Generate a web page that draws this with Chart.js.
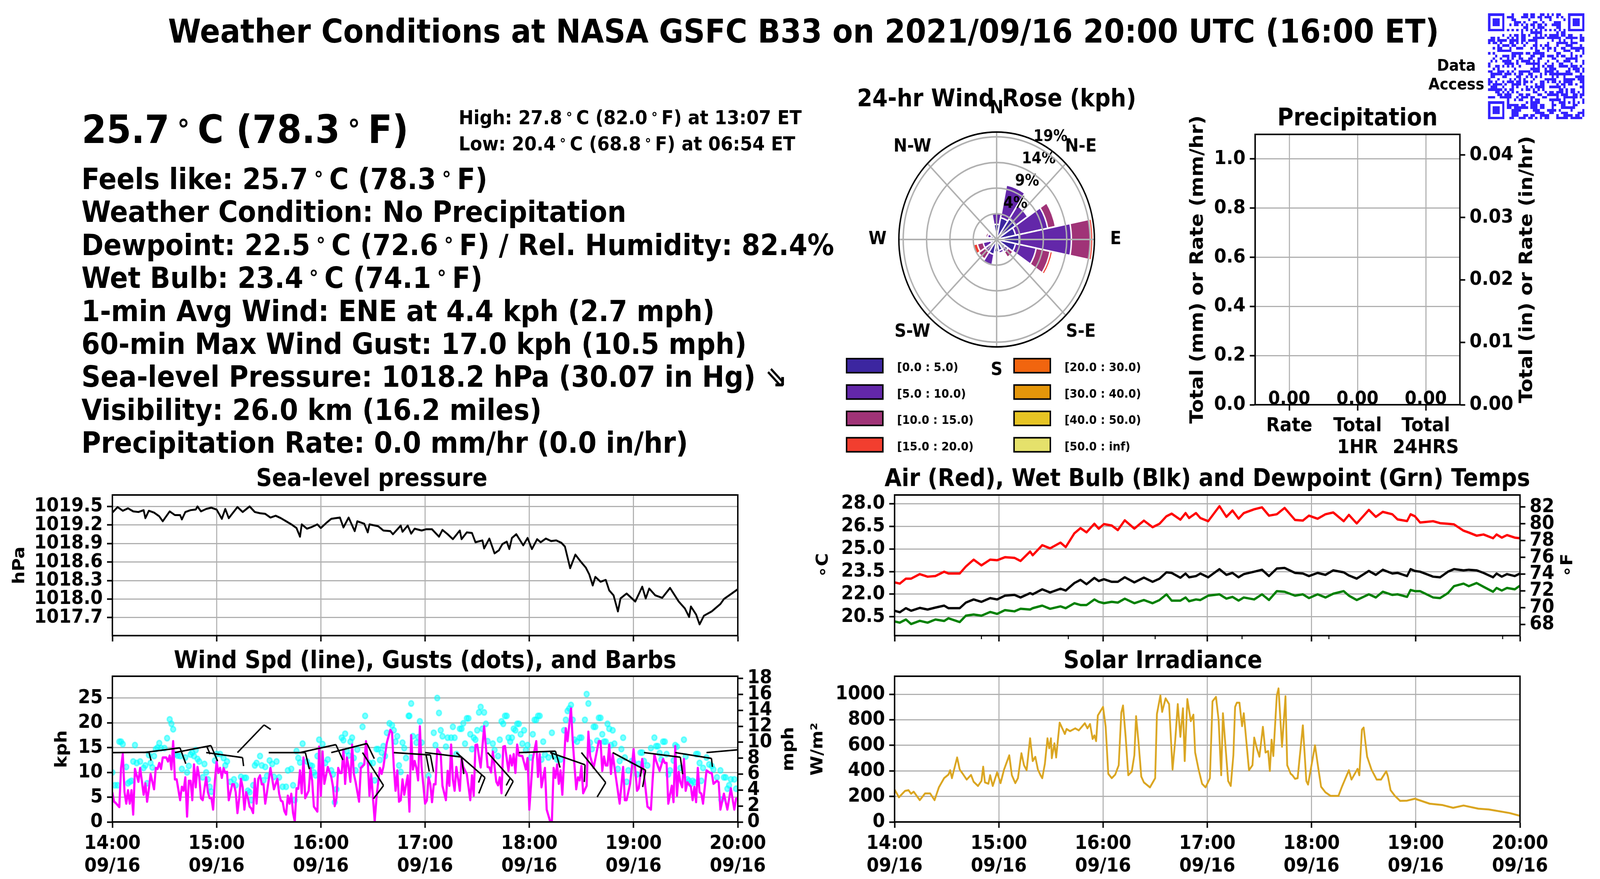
<!doctype html>
<html lang="en">

<head>
    <meta charset="utf-8">
    <style>
        html,
        body {
            margin: 0;
            width: 100%;
            height: 100%;
            overflow: hidden;
            background: #fff;
        }

        #stage {
            position: absolute;
            left: 0;
            top: 0;
            width: 4500px;
            height: 2250px;
            overflow: hidden;
            transform-origin: 0 0;
            font-family: "DejaVu Sans", sans-serif;
            font-weight: bold;
            color: #000;
        }

        canvas {
            position: absolute;
            display: block;
        }

        .txt {
            position: absolute;
            white-space: pre;
        }

        .deg {
            font-size: 0.7em;
            font-weight: bold;
            position: relative;
            top: -0.42em;
            margin: 0 0.25em;
        }
    </style>
    <script src="https://cdn.jsdelivr.net/npm/chart.js@4"></script>
</head>

<body>
    <div id="stage">
        <canvas id="pressureChart"></canvas>
        <canvas id="windChart"></canvas>
        <canvas id="tempChart"></canvas>
        <canvas id="solarChart"></canvas>
        <canvas id="precipChart"></canvas>
        <canvas id="roseChart"></canvas>
        <canvas id="qrCode"></canvas>
    </div>

    <script>
        // x axis
        const hourLabels = ['14:00', '15:00', '16:00', '17:00', '18:00', '19:00', '20:00'];
        const dateLabel = '09/16';

        // sea-level pressure
        const pressureTicks = [1017.7, 1018.0, 1018.3, 1018.6, 1018.9, 1019.2, 1019.5];
        const pressureMinutes = [
            0, 3, 6, 9, 12, 15, 18, 19, 21, 24,
            27, 29, 33, 36, 39, 40, 42, 45, 48, 49,
            51, 54, 57, 60, 63, 65, 67, 72, 75, 79,
            82, 85, 88, 91, 94, 97, 100, 103, 106, 108,
            109, 112, 115, 118, 120, 123, 126, 131, 133, 136,
            139.5, 141, 145, 147, 148, 153, 156, 160, 161.5, 166,
            167, 170, 172, 174, 178, 180.5, 184, 188, 190, 193,
            196, 200, 201, 204, 207, 209, 213, 214, 217, 220,
            222.5, 224.5, 227, 228.5, 230, 232.5, 236.5, 239, 241.5, 244.5,
            246.5, 249.5, 252.5, 255.5, 258.5, 260.5, 263.5, 266.5, 269.5, 272.5,
            274.5, 276.5, 278, 281, 284, 286, 288.5, 291, 292.5, 296,
            301, 305, 307, 309, 312.5, 316.5, 321, 326, 329.5, 332,
            333, 336, 338, 340.5, 345, 350, 352, 356, 360
        ];
        const pressureHpa = [
            1019.40, 1019.49, 1019.43, 1019.47, 1019.42, 1019.41, 1019.44, 1019.31, 1019.43, 1019.40,
            1019.34, 1019.26, 1019.42, 1019.36, 1019.36, 1019.29, 1019.41, 1019.44, 1019.45, 1019.50,
            1019.42, 1019.46, 1019.48, 1019.45, 1019.30, 1019.46, 1019.31, 1019.49, 1019.41, 1019.50,
            1019.41, 1019.39, 1019.38, 1019.32, 1019.35, 1019.31, 1019.26, 1019.21, 1019.15, 1019.01,
            1019.21, 1019.14, 1019.17, 1019.21, 1019.15, 1019.23, 1019.30, 1019.32, 1019.16, 1019.32,
            1019.10, 1019.26, 1019.22, 1019.08, 1019.21, 1019.18, 1019.11, 1019.10, 1019.05, 1019.19,
            1019.09, 1019.19, 1019.06, 1019.14, 1019.11, 1019.13, 1019.13, 1019.01, 1019.12, 1019.05,
            1018.97, 1019.11, 1018.97, 1019.08, 1019.07, 1018.92, 1018.95, 1018.82, 1018.98, 1018.74,
            1018.79, 1018.89, 1018.93, 1018.81, 1018.99, 1019.05, 1018.87, 1018.99, 1018.81, 1018.97,
            1018.92, 1018.98, 1018.94, 1018.95, 1018.91, 1018.85, 1018.50, 1018.72, 1018.61, 1018.51,
            1018.40, 1018.22, 1018.36, 1018.28, 1018.31, 1018.14, 1018.06, 1017.80, 1018.01, 1018.09,
            1017.96, 1018.20, 1018.01, 1018.17, 1018.06, 1018.02, 1018.18, 1017.96, 1017.85, 1017.71,
            1017.88, 1017.75, 1017.59, 1017.73, 1017.80, 1017.92, 1018.00, 1018.08, 1018.16
        ];

        // wind speed line
        const kphTicks = [0, 5, 10, 15, 20, 25];
        const mphTicks = [0, 2, 4, 6, 8, 10, 12, 14, 16, 18];
        const windMinutes = [
            0, 1, 2, 4, 5, 6, 7, 8, 9, 10,
            11, 12, 13, 14, 15, 16, 18, 19, 20, 21,
            22, 24, 25, 26, 27, 28, 29, 31, 32, 33,
            34, 35, 36, 37, 39, 40, 41, 42, 43, 44,
            45, 46, 47, 48, 49, 50, 51, 52, 54, 55,
            56, 57, 58, 59, 60, 61, 62, 63, 64, 65,
            66, 67, 68, 69, 70, 71, 72, 73, 74, 75,
            76, 77, 78, 79, 80, 81, 82, 83, 84, 85,
            86, 87, 88, 89, 91, 93, 95, 96, 97, 98,
            99, 100, 101, 102, 103, 104, 105, 106, 107, 108,
            109, 110, 111, 113, 114, 115, 116, 118, 119, 120,
            121, 122, 124, 126, 127, 128, 129, 130, 131, 132,
            133, 134, 135, 136, 137, 138, 139, 140, 142, 143,
            145, 146, 147, 148, 149, 151, 152, 153, 154, 155,
            156, 158, 160, 161, 162, 163, 164, 165, 166, 167,
            168, 170, 171, 172, 173, 174, 175, 176, 177, 178,
            180, 181, 182, 183, 184, 185, 186, 187, 189, 190,
            192, 193, 194, 195, 196, 197, 198, 200, 201, 202,
            204, 206, 207, 208, 209, 210, 212, 214, 216, 217,
            218, 219, 221, 222, 223, 224, 225, 226, 228, 229,
            230, 231, 232, 233, 234, 236, 238, 239, 240, 242,
            244, 245, 246, 247, 249, 250, 252, 253, 254, 255,
            256, 257, 258, 259, 261, 262, 264, 265, 267, 268,
            269, 270, 271, 273, 274, 275, 277, 280, 281, 282,
            283, 284, 285, 286, 287, 288, 290, 292, 294, 295,
            296, 298, 299, 300, 302, 303, 305, 306, 308, 310,
            311, 312, 313, 315, 317, 318, 319, 320, 322, 323,
            324, 325, 326, 327, 328, 329, 330, 331, 333, 334,
            335, 336, 337, 338, 339, 340, 342, 344, 345, 346,
            348, 349, 350, 352, 354, 356, 358, 359, 360
        ];
        const windKph = [
            6.0, 4.1, 3.8, 3.0, 10.9, 13.7, 6.0, 3.7, 6.4, 3.7,
            6.4, 1.5, 10.7, 9.4, 8.1, 10.9, 5.5, 7.8, 4.1, 6.6,
            9.7, 6.6, 10.9, 10.7, 11.9, 10.7, 13.0, 13.0, 12.2, 13.4,
            10.6, 16.3, 8.6, 8.6, 4.4, 7.1, 6.3, 9.0, 1.1, 8.3,
            8.3, 4.4, 11.6, 7.0, 11.1, 9.1, 4.8, 4.4, 9.0, 6.0,
            4.8, 4.8, 2.5, 8.3, 12.2, 9.9, 10.9, 8.9, 10.9, 9.9,
            10.1, 4.4, 6.0, 7.6, 7.6, 6.0, 1.8, 4.8, 8.7, 7.0,
            2.5, 6.0, 4.8, 3.1, 2.7, 1.8, 8.7, 3.7, 8.7, 9.4,
            7.6, 7.6, 3.7, 6.0, 10.9, 6.6, 8.7, 5.7, 4.3, 4.1,
            2.2, 1.5, 5.3, 3.7, 5.7, 1.8, 0.1, 6.8, 6.7, 10.4,
            5.8, 13.0, 4.8, 6.3, 10.9, 8.3, 3.1, 2.1, 15.2, 5.3,
            14.2, 7.7, 11.1, 9.1, 7.1, 3.2, 4.8, 10.9, 9.9, 9.9,
            14.6, 7.7, 13.0, 11.1, 8.1, 15.6, 9.7, 8.1, 4.1, 10.9,
            11.6, 16.3, 12.2, 5.3, 9.7, 0.1, 4.8, 8.0, 10.9, 9.7,
            11.1, 16.0, 18.6, 18.0, 11.1, 6.3, 10.4, 4.1, 4.4, 8.6,
            5.5, 9.4, 2.1, 17.5, 10.6, 12.3, 10.9, 8.4, 19.3, 11.1,
            3.7, 4.3, 9.0, 7.7, 4.0, 7.6, 7.6, 14.7, 13.7, 7.3,
            4.4, 10.3, 7.3, 15.6, 8.6, 6.3, 11.1, 6.3, 13.0, 11.1,
            9.7, 4.4, 9.4, 5.3, 15.5, 15.6, 11.0, 19.3, 11.1, 11.0,
            10.0, 14.2, 8.1, 7.4, 9.0, 5.8, 15.2, 15.3, 10.3, 13.4,
            11.4, 13.7, 9.9, 15.6, 13.4, 13.3, 10.6, 12.9, 2.5, 12.7,
            16.3, 9.1, 13.7, 7.0, 10.9, 2.5, 0.1, 0.2, 10.9, 8.9,
            11.6, 7.7, 10.4, 5.5, 18.9, 16.3, 22.9, 16.3, 6.6, 9.0,
            8.4, 11.3, 5.8, 7.3, 18.2, 13.3, 10.9, 16.3, 16.3, 10.3,
            13.2, 11.4, 11.4, 15.6, 9.7, 13.7, 8.6, 3.7, 11.1, 4.4,
            4.4, 7.7, 10.9, 14.7, 6.3, 6.8, 12.7, 9.7, 3.1, 2.5,
            8.6, 13.6, 12.3, 10.3, 12.7, 11.9, 11.9, 3.7, 7.3, 4.0,
            15.3, 5.3, 10.1, 8.0, 7.0, 12.7, 6.3, 8.0, 7.1, 4.4,
            7.1, 4.0, 10.9, 6.0, 5.7, 3.7, 10.4, 9.9, 9.9, 7.7,
            8.3, 8.0, 2.5, 5.7, 2.5, 6.8, 2.5, 4.7, 4.8
        ];

        // gust dots
        const gustMinutes = [
            0, 1.5, 3, 4, 5, 6, 8, 9, 10, 11,
            12, 13, 14, 16, 18, 19, 20, 21, 22, 23,
            24, 25, 26, 27, 28, 30, 31.5, 33, 34, 35,
            36, 37.5, 39, 40, 42, 43, 44, 45, 46, 47,
            48, 49, 50, 52, 53, 54, 55, 56, 57, 59,
            60, 62, 64, 65, 66, 68, 70, 71, 74, 76,
            77, 78, 79, 80, 81, 82, 83, 85, 86, 87,
            88, 89, 90.5, 92, 93, 94.5, 96, 98, 100, 101,
            103, 104, 105, 106, 107, 108, 109.5, 112, 114, 115,
            116, 117, 118, 119, 121, 122.5, 124, 126, 127, 128,
            129, 132, 133, 134, 135, 136, 137, 138, 139, 140,
            141, 143, 144, 145.5, 148, 150, 151, 152, 153, 154,
            155, 156, 157, 158, 159.5, 161, 162, 163, 164, 165,
            166, 167, 168, 169, 170.5, 171, 172, 173, 175, 176,
            177, 178, 182, 185, 186, 187, 188, 189, 190, 192,
            193, 195, 196, 197, 198, 200, 201, 202, 203, 204,
            205, 206, 207, 208, 209, 210, 211, 212, 213, 214,
            215, 216, 219, 220, 222, 223, 224, 225, 226, 227,
            228, 229, 230, 231, 232, 233, 234, 235, 236, 237,
            238, 239, 241, 242, 243, 244, 245, 246, 247, 248,
            249, 251, 253, 254, 256, 258, 260, 261, 262, 263,
            264, 265, 266, 267.5, 269, 270, 272, 273, 274, 275,
            276, 277, 278, 279, 280, 281, 282, 283, 284, 285,
            286, 287, 288, 289, 291, 292, 293, 294, 295, 296,
            297, 299, 300, 302, 303, 304, 305, 306, 308, 310,
            312, 313, 314, 315, 316, 317, 318, 319, 320, 321,
            323, 324, 325, 327, 329, 330, 331, 332, 333, 334,
            335, 336, 337, 338, 339, 340, 342, 343.5, 345, 346,
            348, 350, 350.5, 352, 353, 354, 355, 356, 358, 359
        ];
        const gustKph = [
            10, 7.4, 7.4, 16.2, 16.2, 15.7, 11.1, 7.8, 8.1, 8.3,
            12.2, 15.5, 11.9, 12.2, 10.9, 11.4, 7.8, 13.5, 11.9, 11,
            13.3, 14.7, 15, 15.9, 14.9, 14.9, 16.9, 20.7, 19.8, 18.7,
            13.7, 13.4, 13.3, 10.7, 13, 10, 11.3, 13.6, 14, 13.3,
            14.5, 12.7, 12.2, 9, 11.7, 10, 8.6, 7.1, 6.1, 12.4,
            13.7, 13.7, 12.9, 11.4, 12.2, 8.1, 8.6, 7.4, 9.1, 8.9,
            8.9, 6.3, 6, 4.4, 7.4, 11.4, 11.9, 13.3, 11.4, 8.4,
            11.1, 9.3, 12.4, 11.7, 9.1, 12.2, 9, 7.1, 7.1, 10.4,
            10.7, 7.4, 4.4, 14.3, 12.9, 12, 15.8, 12.2, 11.4, 11.3,
            10, 9.4, 13.3, 16.6, 15.7, 11.9, 12.6, 10.4, 9.6, 4,
            6.6, 17, 16.5, 17.8, 14.3, 13.4, 16.2, 17, 12.9, 10.4,
            14.6, 11.4, 19.2, 21.4, 11.9, 11.9, 8.4, 14.7, 14.7, 12.5,
            14, 15.3, 13.3, 18, 19.9, 19.5, 18.5, 16.2, 17.3, 11.4,
            10.1, 16, 14.9, 12.9, 21.4, 21.4, 23.9, 17.3, 16, 17.1,
            20.3, 16, 9.3, 18, 15.5, 25, 22, 18.5, 17.3, 15.2,
            17, 17, 19.2, 17, 13.7, 18.8, 18.8, 19.9, 15.8, 20.9,
            20.9, 17.7, 14.7, 17, 16.6, 18.5, 22.1, 23.2, 18.8, 22.1,
            19.8, 16.3, 15.8, 14.5, 13.3, 16.6, 20.3, 19.8, 21.4, 21.4,
            17, 16.2, 17, 18.8, 18.5, 19.8, 19.8, 17.7, 15.8, 18.5,
            14.5, 15.5, 13, 17.7, 20.6, 20.6, 21.4, 21.4, 12.6, 16.2,
            13.6, 13, 18, 13.4, 12.6, 12.6, 18.5, 20.6, 22.4, 22.9,
            23.6, 20.6, 16.6, 16.2, 17, 17, 20.6, 25.8, 23.9, 16,
            14.7, 19.2, 19.2, 16.4, 21, 21, 17.7, 16.2, 16.2, 19.8,
            18.8, 15.5, 18.5, 15.8, 10.7, 12.3, 14.7, 17, 13, 8.1,
            10.4, 12.3, 12, 9.6, 11.7, 14, 14, 12.3, 11.4, 14.9,
            17, 15.3, 15.3, 13.9, 12.6, 16.2, 16.2, 13.7, 9.6, 10.4,
            12.4, 15.5, 15.2, 10.9, 16.6, 13.2, 8.6, 8.3, 7.7, 8.3,
            8, 13.7, 13.7, 11.9, 8.3, 10.9, 13, 11.6, 11.3, 10.6,
            9, 10.4, 4.5, 9, 9, 6.7, 7.4, 8.6, 8.6, 6.7
        ];

        // barbs every 18 minutes, drawn 14 kph up the axis
        const barbLevel = 14;
        const barbMinutes = [0, 18, 36, 54, 72, 90, 108, 126, 144, 162, 180, 198, 216, 234, 252, 270, 288, 306, 324, 342];
        const barbAngles = [-0.4, -6.8, -10, 7.2, -43.4, 0, -11.4, -13, 55, 3.4, 6.4, 38.5, 45.7, -2, 17.7, 48.4, 26, 6.6, 8.3, -4.7];
        const barbFeathers = [0.5, 1, 1.5, 0.5, 0.5, 1, 1, 1, 1, 2, 1, 1.5, 1.5, 1.5, 1, 1, 1.5, 1, 0.5, 0.5];

        // temperatures
        const celsiusTicks = [20.5, 22.0, 23.5, 25.0, 26.5, 28.0];
        const fahrenheitTicks = [68, 70, 72, 74, 76, 78, 80, 82];
        const tempMinorTicks = [50, 100, 150, 200, 250, 300, 350];
        const tempMinutes = [
            0, 3, 6.5, 9.5, 14.5, 19, 23.5, 28.5, 31, 37.5,
            41, 45.5, 50, 55, 59, 63.5, 69, 72.5, 78, 79.5,
            85, 89.5, 95.5, 98.5, 103.5, 107, 110.5, 115, 117.5, 120.5,
            125, 128.5, 132.5, 138, 143.5, 148.5, 152.5, 156.5, 159.5, 164.5,
            167.5, 169.5, 173.5, 176, 180.5, 187, 191, 194.5, 198, 201,
            207, 211.5, 215.5, 220, 224.5, 230.5, 235, 238.5, 243.5, 248,
            252.5, 258.5, 261.5, 266, 273, 277, 281, 286.5, 289.5, 295,
            297, 299.5, 302.5, 310, 314, 318.5, 322, 327.5, 330.5, 335,
            339, 344.5, 346.5, 349.5, 352.5, 357, 360
        ];
        const airTemp = [
            22.78, 22.70, 23.03, 23.03, 23.33, 23.16, 23.20, 23.49, 23.37, 23.37,
            23.83, 24.29, 23.91, 24.29, 24.25, 24.45, 24.41, 24.20, 24.83, 24.58,
            25.25, 25.04, 25.42, 25.12, 26.04, 26.38, 26.10, 26.67, 26.34, 26.65,
            26.55, 26.25, 26.90, 26.35, 26.88, 26.44, 26.67, 27.17, 27.34, 26.94,
            27.38, 27.05, 27.38, 27.05, 26.84, 27.84, 27.13, 27.55, 27.01, 27.38,
            27.63, 27.76, 27.21, 27.30, 27.72, 26.92, 26.88, 27.21, 27.00, 27.30,
            27.42, 26.84, 27.26, 26.69, 27.59, 27.13, 27.46, 27.30, 26.96, 26.85,
            27.30, 27.17, 26.75, 26.84, 26.71, 26.67, 26.63, 26.21, 26.09, 25.88,
            25.96, 25.71, 25.96, 25.75, 25.92, 25.75, 25.71
        ];
        const wetBulbTemp = [
            20.90, 20.80, 21.07, 20.90, 21.09, 20.98, 21.11, 21.24, 21.07, 21.07,
            21.44, 21.65, 21.49, 21.74, 21.65, 21.90, 21.95, 21.78, 22.07, 21.99,
            22.32, 22.11, 22.36, 22.24, 22.74, 22.95, 22.66, 23.08, 22.87, 22.99,
            22.82, 22.82, 23.12, 22.78, 23.10, 22.82, 23.03, 23.45, 23.41, 23.09,
            23.37, 23.12, 23.20, 23.37, 23.12, 23.66, 23.28, 23.41, 23.12, 23.33,
            23.49, 23.62, 23.20, 23.70, 23.74, 23.41, 23.37, 23.20, 23.41, 23.28,
            23.58, 23.45, 23.24, 23.03, 23.54, 23.28, 23.62, 23.37, 23.41, 23.20,
            23.66, 23.54, 23.49, 23.16, 23.12, 23.49, 23.66, 23.58, 23.62, 23.58,
            23.41, 23.12, 23.37, 23.16, 23.33, 23.20, 23.37
        ];
        const dewpointTemp = [
            20.19, 20.11, 20.32, 20.02, 20.23, 20.11, 20.32, 20.22, 20.40, 20.15,
            20.57, 20.65, 20.57, 20.82, 20.69, 20.94, 20.86, 21.03, 20.98, 21.07,
            21.24, 21.03, 21.19, 21.07, 21.40, 21.28, 21.28, 21.65, 21.49, 21.40,
            21.49, 21.44, 21.70, 21.40, 21.61, 21.40, 21.61, 21.99, 21.57, 21.57,
            21.78, 21.53, 21.65, 21.61, 21.90, 21.99, 21.70, 21.82, 21.57, 21.78,
            21.65, 21.99, 21.61, 22.20, 22.16, 21.90, 21.99, 21.74, 21.99, 21.78,
            22.03, 22.20, 21.90, 21.61, 21.99, 21.78, 22.16, 21.95, 21.99, 21.82,
            22.28, 22.20, 22.20, 21.78, 21.74, 22.07, 22.53, 22.70, 22.53, 22.74,
            22.49, 22.16, 22.41, 22.24, 22.41, 22.32, 22.57
        ];

        // solar
        const solarTicks = [0, 200, 400, 600, 800, 1000];
        const solarMinutes = [
            0, 2.5, 6, 8, 9.5, 11, 14.5, 17.5, 20.5, 23,
            25.5, 28.5, 31, 32, 33, 36, 37.5, 39, 41.5, 44,
            45.5, 48, 50, 51, 52, 54, 55, 56.5, 59, 61,
            63, 66, 67.5, 69.5, 71, 73, 74.5, 76, 78, 79.5,
            81, 82.5, 84, 85, 86.5, 88, 89, 90, 90.5, 92,
            93, 95, 98, 99, 101, 104, 106, 109.5, 111, 112.5,
            114, 115, 116, 117, 120, 121.5, 123, 125, 127, 129,
            130.5, 131.5, 133, 134.5, 136.5, 138, 139, 140.5, 142, 143.5,
            147, 150, 151, 153, 154, 156, 158, 160, 161.5, 163,
            164.5, 166, 167, 168.5, 170.5, 172, 173, 175, 177, 179,
            181.5, 183, 185, 186.5, 188, 189, 192, 193.5, 195, 196,
            197, 198.5, 200, 201, 204, 206, 207, 208.5, 210, 212,
            213.5, 215, 216, 217, 218, 220, 221, 223, 225, 226,
            228, 229, 230.5, 232, 235, 237, 238, 241, 242, 244,
            245.5, 248, 251, 255.5, 257.5, 261.5, 263, 266.5, 267.5, 269,
            270, 272, 274.5, 277.5, 280, 283, 284, 285.5, 288, 291,
            295, 299.5, 308, 315.5, 321.5, 327.5, 336, 342, 354, 360
        ];
        const solarWatts = [
            254, 193, 243, 249, 221, 237, 171, 223, 223, 171,
            271, 343, 371, 405, 343, 505, 410, 382, 332, 368,
            315, 282, 321, 433, 310, 299, 366, 282, 388, 304,
            410, 522, 366, 304, 343, 538, 444, 405, 655, 477,
            510, 410, 366, 343, 455, 655, 577, 655, 499, 616,
            505, 778, 689, 728, 711, 733, 717, 773, 733, 767,
            650, 678, 633, 834, 901, 745, 377, 343, 371, 444,
            856, 912, 667, 366, 394, 522, 828, 611, 355, 310,
            271, 343, 845, 990, 862, 968, 923, 410, 633, 923,
            667, 890, 477, 962, 789, 840, 544, 410, 299, 271,
            343, 945, 979, 800, 366, 851, 321, 282, 522, 901,
            934, 934, 750, 851, 405, 444, 661, 577, 511, 745,
            544, 555, 399, 644, 516, 990, 1046, 589, 984, 444,
            377, 366, 338, 343, 756, 321, 293, 522, 600, 410,
            276, 232, 204, 204, 276, 405, 332, 416, 366, 722,
            739, 511, 410, 332, 332, 397, 355, 249, 204, 165,
            167, 182, 143, 132, 111, 129, 104, 98, 70, 48
        ];

        // precipitation
        const precipCategories = [['Rate'], ['Total', '1HR'], ['Total', '24HRS']];
        const precipValues = [0, 0, 0];
        const mmTicks = [0, 0.2, 0.4, 0.6, 0.8, 1.0];
        const inchTicks = [0, 0.01, 0.02, 0.03, 0.04];

        // wind rose, percent of time per direction
        const roseDirections = ['N', 'NNE', 'NE', 'ENE', 'E', 'ESE', 'SE', 'SSE', 'S', 'SSW', 'SW', 'WSW', 'W', 'WNW', 'NW', 'NNW'];
        const roseCompassLabels = ['N', 'N-E', 'E', 'S-E', 'S', 'S-W', 'W', 'N-W'];
        const roseRingValues = [4.75, 9.5, 14.25, 19];
        const roseRingLabels = ['4%', '9%', '14%', '19%'];
        const speedBins = ['[0.0 : 5.0)', '[5.0 : 10.0)', '[10.0 : 15.0)', '[15.0 : 20.0)', '[20.0 : 30.0)', '[30.0 : 40.0)', '[40.0 : 50.0)', '[50.0 : inf)'];
        const binColors = ['#3c26a0', '#6327a9', '#a03377', '#f23e2f', '#f1650f', '#e4960a', '#e6c424', '#e5e16b'];
        const freqBin0 = [2.8, 4.1, 4.6, 3.9, 4.6, 3.9, 2.1, 2.1, 2.3, 2.8, 1.4, 1.2, 1.4, 1.2, 0.7, 0.9];
        const freqBin1 = [2.2, 6.2, 3.0, 6.7, 10.6, 4.3, 0.7, 0.5, 0, 2.1, 1.4, 1.6, 0.4, 0.7, 0, 0];
        const freqBin2 = [0, 0, 0.2, 1.6, 3.9, 2.9, 1.2, 0, 0, 0, 1.6, 1.2, 0, 0.4, 0, 0];
        const freqBin3 = [0, 0, 0, 0, 0.5, 0.5, 0.2, 0, 0, 0, 0.1, 0.9, 0, 0, 0, 0];

        // qr code, dark columns for each row (finder squares are added below)
        const qrRows = [
            [10, 15, 16, 18, 19, 22, 23, 25, 27, 29, 30],
            [8, 9, 10, 14, 15, 16, 18, 19, 21, 22, 24, 25, 26, 29, 31],
            [10, 11, 17, 22, 26, 32],
            [11, 12, 13, 15, 19, 20, 23, 28, 29, 30],
            [9, 11, 12, 14, 16, 18, 19, 21, 22, 24, 27, 28, 29, 30],
            [15, 16, 19, 21, 22, 23, 29, 30],
            [8, 10, 12, 14, 16, 18, 20, 22, 24, 26, 28, 30, 32],
            [14, 18, 19, 20, 21, 22, 29, 31, 32],
            [6, 9, 11, 12, 14, 15, 17, 20, 22, 24, 26, 27, 28, 29, 31, 32, 34, 35, 39],
            [1, 2, 4, 8, 10, 12, 14, 15, 19, 20, 21, 22, 23, 25, 26, 27, 28, 29, 30, 33, 34, 35, 36, 37, 39, 40],
            [0, 1, 2, 4, 5, 6, 7, 9, 10, 11, 12, 14, 15, 17, 18, 19, 20, 27, 30, 32, 35, 39, 40],
            [0, 2, 3, 5, 9, 10, 12, 14, 16, 20, 25, 29, 30, 31, 32, 33, 35, 36, 37],
            [4, 6, 7, 8, 10, 11, 15, 19, 20, 22, 24, 25, 29, 33, 34, 35, 39],
            [2, 4, 5, 9, 12, 13, 14, 18, 20, 23, 25, 26, 28, 31, 32, 35, 36, 37, 38, 39, 40],
            [4, 5, 6, 7, 8, 9, 20, 21, 25, 28, 32, 33, 34, 37, 38, 40],
            [0, 2, 10, 11, 12, 13, 14, 16, 17, 19, 20, 21, 22, 23, 29, 30, 35, 40],
            [3, 6, 7, 8, 10, 11, 13, 18, 19, 22, 23, 25, 26, 27, 29, 31, 32, 35, 37, 39],
            [2, 5, 8, 10, 13, 14, 17, 18, 21, 22, 27, 28, 33, 34, 35, 36, 37],
            [1, 3, 6, 7, 8, 9, 12, 14, 15, 16, 17, 19, 21, 25, 29, 32, 33, 34, 37, 40],
            [0, 7, 8, 9, 10, 12, 16, 17, 18, 19, 20, 21, 24, 27, 30, 31, 35, 40],
            [0, 3, 4, 6, 8, 10, 13, 19, 21, 23, 25, 26, 27, 30, 31, 32, 33, 35, 36, 37, 39],
            [2, 4, 11, 18, 19, 20, 21, 24, 26, 27, 28, 34, 36, 37, 38, 40],
            [0, 1, 4, 5, 6, 8, 10, 13, 14, 15, 16, 17, 19, 20, 21, 24, 25, 26, 27, 29, 33, 34, 37, 38, 40],
            [1, 2, 3, 4, 5, 7, 8, 9, 11, 13, 14, 17, 18, 22, 24, 26, 27, 28, 29, 30, 31, 32, 33, 34, 35, 39],
            [1, 2, 6, 7, 12, 13, 16, 18, 20, 22, 27, 29, 32, 37, 38, 39, 40],
            [0, 4, 9, 11, 13, 15, 19, 24, 25, 26, 27, 28, 32, 33, 34, 35, 36, 38, 39, 40],
            [0, 1, 3, 6, 8, 9, 10, 12, 13, 15, 16, 18, 22, 23, 25, 27, 28, 30, 32, 33, 34, 35, 39, 40],
            [0, 2, 3, 4, 5, 7, 10, 11, 12, 13, 15, 20, 22, 23, 29, 31, 32, 34, 35, 37, 40],
            [1, 2, 3, 6, 10, 12, 16, 18, 20, 21, 22, 23, 26, 27, 28, 29, 30, 32, 39, 40],
            [0, 1, 2, 3, 4, 5, 7, 9, 10, 14, 16, 17, 19, 21, 23, 30, 31, 33, 35, 36, 40],
            [3, 4, 6, 8, 10, 12, 19, 20, 24, 26, 27, 29, 30, 31, 33, 35, 36, 38, 40],
            [4, 5, 7, 8, 9, 13, 14, 16, 17, 21, 22, 25, 26, 27, 28, 29, 31, 32, 33, 36, 37, 39, 40],
            [0, 1, 2, 5, 6, 7, 8, 9, 12, 14, 15, 16, 18, 19, 23, 24, 29, 32, 33, 34, 35, 36, 37, 39],
            [8, 11, 13, 14, 18, 20, 21, 26, 27, 28, 29, 30, 32, 36, 40],
            [8, 16, 18, 19, 20, 21, 27, 30, 31, 32, 34, 36, 38, 40],
            [8, 9, 10, 11, 12, 14, 15, 18, 19, 20, 22, 23, 27, 28, 31, 32, 36, 37],
            [8, 9, 11, 12, 13, 14, 15, 16, 18, 19, 20, 22, 23, 27, 31, 32, 33, 34, 35, 36],
            [10, 11, 12, 13, 19, 20, 21, 25, 26, 27, 28, 30, 35, 40],
            [10, 11, 12, 20, 21, 22, 23, 26, 27, 31, 32, 33, 38, 39, 40],
            [10, 11, 12, 15, 16, 18, 19, 22, 23, 24, 25, 29, 32, 33, 34, 35, 37, 38, 40],
            [9, 10, 13, 14, 15, 17, 18, 20, 22, 24, 25, 29, 30, 31, 32, 33, 35, 36, 37, 38, 39]
        ];

        // the page is laid out for 4500x2250, fit that to whatever window we really got
        const stage = document.getElementById('stage');
        stage.style.transform = 'scale(' + (window.innerWidth / 4500) + ',' + (window.innerHeight / 2250) + ')';

        const pts = (xs, ys) => xs.map((x, i) => ({ x: x, y: ys[i] }));
        const FAMILY = '"DejaVu Sans"';
        const GRID = '#b0b0b0';

        Chart.defaults.font.family = FAMILY;
        Chart.defaults.font.weight = 'bold';
        Chart.defaults.font.size = 50;
        Chart.defaults.color = '#000';
        Chart.defaults.animation = false;
        Chart.defaults.responsive = false;
        Chart.defaults.devicePixelRatio = 1;
        Chart.defaults.plugins.legend.display = false;
        Chart.defaults.plugins.tooltip.enabled = false;

        // black box round the plot, like the spines of the original
        const framePlugin = {
            id: 'frame',
            afterDatasetsDraw(chart) {
                const a = chart.chartArea, c = chart.ctx;
                c.save();
                c.strokeStyle = '#000';
                c.lineWidth = 4;
                c.strokeRect(a.left, a.top, a.right - a.left, a.bottom - a.top);
                c.restore();
            }
        };

        // rotated title on the right axis, Chart.js would turn it the other way
        const rightTitlePlugin = {
            id: 'rightTitle',
            afterDraw(chart, args, o) {
                if (!o.text) return;
                const a = chart.chartArea, c = chart.ctx;
                c.save();
                c.font = 'bold ' + o.size + 'px ' + FAMILY;
                c.fillStyle = '#000';
                c.textAlign = 'center';
                c.textBaseline = 'middle';
                c.translate(a.right + o.offset, (a.top + a.bottom) / 2);
                c.rotate(-Math.PI / 2);
                c.fillText(o.text, 0, 0);
                c.restore();
            }
        };

        const barbPlugin = {
            id: 'barbs',
            afterDatasetsDraw(chart) {
                const a = chart.chartArea, c = chart.ctx;
                const sx = chart.scales.x, sy = chart.scales.y;
                const SHAFT = 103, FULL = 44, HALF = 22, STEP = 12;
                c.save();
                c.beginPath();
                c.rect(a.left, a.top, a.right - a.left, a.bottom - a.top);
                c.clip();
                c.strokeStyle = '#000';
                c.lineWidth = 4;
                barbMinutes.forEach((m, i) => {
                    const px = sx.getPixelForValue(m), py = sy.getPixelForValue(barbLevel);
                    const ang = barbAngles[i] * Math.PI / 180;
                    const fAng = ang + 75 * Math.PI / 180;
                    c.beginPath();
                    c.moveTo(px, py);
                    c.lineTo(px + SHAFT * Math.cos(ang), py + SHAFT * Math.sin(ang));
                    let left = barbFeathers[i], d = SHAFT;
                    while (left > 0) {
                        const len = left >= 1 ? FULL : HALF;
                        const bx = px + d * Math.cos(ang), by = py + d * Math.sin(ang);
                        c.moveTo(bx, by);
                        c.lineTo(bx + len * Math.cos(fAng), by + len * Math.sin(fAng));
                        left -= left >= 1 ? 1 : 0.5;
                        d -= STEP;
                    }
                    c.stroke();
                });
                c.restore();
            }
        };

        const minorTickPlugin = {
            id: 'minorTicks',
            afterDatasetsDraw(chart) {
                const c = chart.ctx, b = chart.chartArea.bottom;
                c.save();
                c.strokeStyle = '#000';
                c.lineWidth = 3;
                tempMinorTicks.forEach(m => {
                    const x = chart.scales.x.getPixelForValue(m);
                    c.beginPath();
                    c.moveTo(x, b);
                    c.lineTo(x, b + 9);
                    c.stroke();
                });
                c.restore();
            }
        };

        const barValuePlugin = {
            id: 'barValues',
            afterDatasetsDraw(chart) {
                const c = chart.ctx, m = chart.getDatasetMeta(0);
                c.save();
                c.font = 'bold 48px ' + FAMILY;
                c.fillStyle = '#000';
                c.textAlign = 'center';
                c.textBaseline = 'alphabetic';
                m.data.forEach((el, i) => c.fillText(precipValues[i].toFixed(2), el.x, el.y - 1));
                c.restore();
            }
        };

        function place(id, L, T, R, B, m, tm, bm) {
            const cv = document.getElementById(id);
            cv.width = Math.round(R - L + 2 * m);
            cv.height = Math.round(B - T + tm + bm);
            cv.style.left = (L - m) + 'px';
            cv.style.top = (T - tm) + 'px';
            return cv;
        }

        function timeAxis(bm, withLabels) {
            return {
                type: 'linear',
                min: 0,
                max: 360,
                afterFit: s => { s.height = bm; },
                border: { color: '#000', width: 4 },
                grid: { color: GRID, lineWidth: 3, tickColor: '#000', tickWidth: 4, tickLength: 15 },
                ticks: {
                    display: withLabels,
                    stepSize: 60,
                    autoSkip: false,
                    maxRotation: 0,
                    minRotation: 0,
                    padding: 12,
                    font: { size: 50, lineHeight: 1.16 },
                    callback: v => [hourLabels[v / 60], dateLabel]
                }
            };
        }

        function valueAxis(ticks, min, max, m, decimals, position, title) {
            return {
                type: 'linear',
                position: position,
                min: min,
                max: max,
                afterFit: s => { s.width = m; },
                afterBuildTicks: s => { s.ticks = ticks.map(v => ({ value: v })); },
                border: { color: '#000', width: 4 },
                grid: {
                    color: position === 'right' ? 'transparent' : GRID,
                    lineWidth: 3,
                    tickColor: '#000',
                    tickWidth: 4,
                    tickLength: 15,
                    drawOnChartArea: position !== 'right'
                },
                title: title ? {
                    display: true,
                    text: title.text,
                    font: { size: title.size, lineHeight: 1.2 },
                    padding: { top: title.pad, bottom: 0 }
                } : { display: false },
                ticks: {
                    autoSkip: false,
                    padding: 12,
                    font: { size: 50 },
                    callback: v => v.toFixed(decimals)
                }
            };
        }

        const titleOf = (text, pb) => ({
            display: true,
            text: text,
            font: { size: 62, lineHeight: 1 },
            padding: { top: 0, bottom: pb }
        });

        const linePlugins = [framePlugin, rightTitlePlugin];

        // sea-level pressure
        new Chart(place('pressureChart', 316, 1267, 2075, 1639, 300, 70, 30), {
            type: 'line',
            data: {
                datasets: [{
                    data: pts(pressureMinutes, pressureHpa),
                    borderColor: '#000',
                    borderWidth: 5,
                    borderJoinStyle: 'round',
                    pointRadius: 0
                }]
            },
            options: {
                layout: { padding: { right: 300 } },
                plugins: { title: titleOf('Sea-level pressure', 8) },
                scales: {
                    x: timeAxis(30, false),
                    y: valueAxis(pressureTicks, 1017.408, 1019.686, 300, 1, 'left', { text: 'hPa', size: 46, pad: 12 })
                }
            },
            plugins: linePlugins
        });

        // wind
        new Chart(place('windChart', 316, 1733, 2075, 2104, 170, 70, 146), {
            type: 'line',
            data: {
                datasets: [{
                    data: pts(windMinutes, windKph),
                    borderColor: '#ff00ff',
                    borderWidth: 6,
                    borderJoinStyle: 'round',
                    pointRadius: 0
                }, {
                    type: 'scatter',
                    data: pts(gustMinutes, gustKph),
                    backgroundColor: 'rgba(0,255,255,0.5)',
                    borderColor: 'rgba(0,255,255,0.5)',
                    borderWidth: 4,
                    pointRadius: 7
                }]
            },
            options: {
                plugins: {
                    title: titleOf('Wind Spd (line), Gusts (dots), and Barbs', 6),
                    rightTitle: { text: 'mph', size: 46, offset: 144 }
                },
                scales: {
                    x: timeAxis(146, true),
                    y: valueAxis(kphTicks, 0, 29.4, 170, 0, 'left', { text: 'kph', size: 46, pad: 1 }),
                    y1: valueAxis(mphTicks, 0, 18.27, 170, 0, 'right')
                }
            },
            plugins: [barbPlugin, framePlugin, rightTitlePlugin]
        });

        // temperatures
        new Chart(place('tempChart', 2515.5, 1267, 4274.5, 1639, 230, 70, 30), {
            type: 'line',
            data: {
                datasets: [{
                    data: pts(tempMinutes, airTemp),
                    borderColor: '#ff0000',
                    borderWidth: 6,
                    borderJoinStyle: 'round',
                    pointRadius: 0
                }, {
                    data: pts(tempMinutes, wetBulbTemp),
                    borderColor: '#000',
                    borderWidth: 6,
                    borderJoinStyle: 'round',
                    pointRadius: 0
                }, {
                    data: pts(tempMinutes, dewpointTemp),
                    borderColor: '#008000',
                    borderWidth: 6,
                    borderJoinStyle: 'round',
                    pointRadius: 0
                }]
            },
            options: {
                plugins: {
                    title: titleOf('Air (Red), Wet Bulb (Blk) and Dewpoint (Grn) Temps', 8),
                    rightTitle: { text: '∘F', size: 46, offset: 135 }
                },
                scales: {
                    x: timeAxis(30, false),
                    y: valueAxis(celsiusTicks, 19.25, 28.58, 230, 1, 'left', { text: '∘C', size: 46, pad: 2 }),
                    y1: valueAxis(fahrenheitTicks, 66.65, 83.44, 230, 0, 'right')
                }
            },
            plugins: [minorTickPlugin, framePlugin, rightTitlePlugin]
        });

        // solar
        new Chart(place('solarChart', 2515.5, 1733, 4274.5, 2104, 250, 70, 146), {
            type: 'line',
            data: {
                datasets: [{
                    data: pts(solarMinutes, solarWatts),
                    borderColor: '#daa520',
                    borderWidth: 5,
                    borderJoinStyle: 'round',
                    pointRadius: 0
                }]
            },
            options: {
                layout: { padding: { right: 250 } },
                plugins: { title: titleOf('Solar Irradiance', 6) },
                scales: {
                    x: timeAxis(146, true),
                    y: valueAxis(solarTicks, 0, 1141, 250, 0, 'left', { text: 'W/m²', size: 46, pad: 7 })
                }
            },
            plugins: linePlugins
        });

        // precipitation
        new Chart(place('precipChart', 3530, 344, 4106, 1036, 230, 70, 144), {
            type: 'bar',
            data: {
                labels: precipCategories,
                datasets: [{ data: precipValues, backgroundColor: '#1f77b4' }]
            },
            options: {
                plugins: {
                    title: titleOf('Precipitation', 8),
                    rightTitle: { text: 'Total (in) or Rate (in/hr)', size: 51, offset: 190 }
                },
                scales: {
                    x: {
                        afterFit: s => { s.height = 144; },
                        border: { color: '#000', width: 4 },
                        grid: { color: GRID, lineWidth: 3, tickColor: '#000', tickWidth: 4, tickLength: 15, offset: false },
                        ticks: { padding: 12, maxRotation: 0, minRotation: 0, autoSkip: false, font: { size: 50, lineHeight: 1.12 } }
                    },
                    y: valueAxis(mmTicks, 0, 1.1, 230, 1, 'left', { text: 'Total (mm) or Rate (mm/hr)', size: 51, pad: 39 }),
                    y1: valueAxis(inchTicks, 0, 0.0433, 230, 2, 'right')
                }
            },
            plugins: [barValuePlugin, framePlugin, rightTitlePlugin]
        });

        // wind rose: cumulative wedges layered from the outside in
        const roseBins = [freqBin0, freqBin1, freqBin2, freqBin3];
        const roseTotals = roseBins.map((b, n) => roseDirections.map((d, i) => {
            let sum = 0;
            for (let k = 0; k <= n; k++) sum += roseBins[k][i];
            return sum;
        }));

        const rosePlugin = {
            id: 'roseDecor',
            afterDatasetsDraw(chart) {
                const c = chart.ctx, r = chart.scales.r;
                const cx = r.xCenter, cy = r.yCenter, R = r.drawingArea;
                c.save();
                c.strokeStyle = GRID;
                c.lineWidth = 4;
                for (let a = 0; a < 8; a++) {
                    const t = a * Math.PI / 4;
                    c.beginPath();
                    c.moveTo(cx, cy);
                    c.lineTo(cx + R * Math.sin(t), cy - R * Math.cos(t));
                    c.stroke();
                }
                c.strokeStyle = '#000';
                c.beginPath();
                c.arc(cx, cy, R, 0, Math.PI * 2);
                c.stroke();

                c.fillStyle = '#000';
                c.textAlign = 'center';
                c.textBaseline = 'middle';
                c.font = 'bold 46px ' + FAMILY;
                roseCompassLabels.forEach((lab, a) => {
                    const t = a * Math.PI / 4;
                    c.fillText(lab, cx + 335 * Math.sin(t), cy - 335 * Math.cos(t));
                });
                c.font = 'bold 40px ' + FAMILY;
                const rt = 30 * Math.PI / 180;
                roseRingValues.forEach((v, i) => {
                    const d = r.getDistanceFromCenterForValue(v) + 40;
                    c.fillText(roseRingLabels[i], cx + d * Math.sin(rt), cy - d * Math.cos(rt));
                });

                // legend, two columns of four
                c.textAlign = 'left';
                c.font = 'bold 31px ' + FAMILY;
                speedBins.forEach((lab, i) => {
                    const col = i < 4 ? 0 : 1;
                    const row = i % 4;
                    const x = (col ? 549 : 78), y = 722 + row * 67.5;
                    c.fillStyle = binColors[i];
                    c.fillRect(x, y - 18, 102, 36);
                    c.lineWidth = 4;
                    c.strokeStyle = '#000';
                    c.strokeRect(x, y - 18, 102, 36);
                    c.fillStyle = '#000';
                    c.fillText(lab, x + 142, y + 6);
                });
                c.restore();
            }
        };

        new Chart(place('roseChart', 2527.5, 338, 3077.5, 888, 225, 124, 292), {
            type: 'polarArea',
            data: {
                labels: roseDirections,
                datasets: roseTotals.map((vals, i) => ({
                    label: speedBins[i],
                    data: vals,
                    backgroundColor: binColors[i],
                    borderColor: '#fff',
                    borderWidth: 4
                }))
            },
            options: {
                layout: { padding: { left: 225, right: 225, top: 124, bottom: 292 } },
                scales: {
                    r: {
                        min: 0,
                        max: 19.88,
                        startAngle: -11.25,
                        afterBuildTicks: s => { s.ticks = [0].concat(roseRingValues).map(v => ({ value: v })); },
                        angleLines: { display: false },
                        pointLabels: { display: false },
                        ticks: { display: false },
                        grid: { color: GRID, lineWidth: 4, z: 1, circular: true }
                    }
                }
            },
            plugins: [rosePlugin]
        });

        // page text
        const DEG = '<span class="deg">∘</span>';
        function addText(html, x, cy, size, align) {
            const d = document.createElement('div');
            d.className = 'txt';
            d.innerHTML = html;
            d.style.fontSize = size + 'px';
            d.style.lineHeight = (size * 1.2) + 'px';
            d.style.top = (cy - size * 0.6) + 'px';
            if (align === 'center') {
                d.style.left = (x - 2000) + 'px';
                d.style.width = '4000px';
                d.style.textAlign = 'center';
            } else {
                d.style.left = x + 'px';
            }
            stage.appendChild(d);
        }

        const mainTitle = 'Weather Conditions at NASA GSFC B33 on 2021/09/16 20:00 UTC (16:00 ET)';
        const currentTemp = '25.7' + DEG + 'C (78.3' + DEG + 'F)';
        const highLow = [
            'High: 27.8' + DEG + 'C (82.0' + DEG + 'F) at 13:07 ET',
            'Low: 20.4' + DEG + 'C (68.8' + DEG + 'F) at 06:54 ET'
        ];
        const infoLines = [
            'Feels like: 25.7' + DEG + 'C (78.3' + DEG + 'F)',
            'Weather Condition: No Precipitation',
            'Dewpoint: 22.5' + DEG + 'C (72.6' + DEG + 'F) / Rel. Humidity: 82.4%',
            'Wet Bulb: 23.4' + DEG + 'C (74.1' + DEG + 'F)',
            '1-min Avg Wind: ENE at 4.4 kph (2.7 mph)',
            '60-min Max Wind Gust: 17.0 kph (10.5 mph)',
            'Sea-level Pressure: 1018.2 hPa (30.07 in Hg) ⇘',
            'Visibility: 26.0 km (16.2 miles)',
            'Precipitation Rate: 0.0 mm/hr (0.0 in/hr)'
        ];
        addText(mainTitle, 2260, 80, 84, 'center');
        addText(currentTemp, 230, 332, 100);
        addText(highLow[0], 1290, 301, 50);
        addText(highLow[1], 1290, 368, 50);
        infoLines.forEach((line, i) => addText(line, 229, 458 + i * 84.4, 75));
        addText('24-hr Wind Rose (kph)', 2803, 251, 62, 'center');
        addText('Data', 4096, 168, 41, 'center');
        addText('Access', 4096, 216, 41, 'center');

        // qr code
        const qr = document.getElementById('qrCode');
        const MOD = 6.62;
        qr.width = 272;
        qr.height = 272;
        qr.style.left = '4185px';
        qr.style.top = '34px';
        const q = qr.getContext('2d');
        q.fillStyle = '#3322ff';
        const cell = (col, row) => {
            const x0 = Math.round(col * MOD), y0 = Math.round(row * MOD);
            q.fillRect(x0, y0, Math.round((col + 1) * MOD) - x0, Math.round((row + 1) * MOD) - y0);
        };
        qrRows.forEach((cols, row) => cols.forEach(col => cell(col, row)));
        [[0, 0], [34, 0], [0, 34]].forEach(([fx, fy]) => {
            for (let r = 0; r < 7; r++) {
                for (let k = 0; k < 7; k++) {
                    const ring = r === 0 || r === 6 || k === 0 || k === 6;
                    const core = r >= 2 && r <= 4 && k >= 2 && k <= 4;
                    if (ring || core) cell(fx + k, fy + r);
                }
            }
        });
    </script>
</body>

</html>
